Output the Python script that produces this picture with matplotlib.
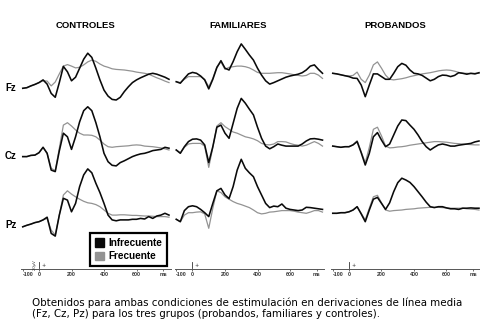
import matplotlib
matplotlib.use('Agg')
import matplotlib.pyplot as plt
from matplotlib.patches import Patch

# sampling grid (ms)
times = list(range(-100, 801, 25))

groups = ['CONTROLES', 'FAMILIARES', 'PROBANDOS']
leads = ['Fz', 'Cz', 'Pz']

# amplitudes in microvolts
ctrl_fz_inf = [-0.1, 0.1, 0.7, 1.2, 1.8, 2.7, 1.3, -1.8, -3.1, 1.8, 7.2, 5.4, 2.4, 3.6, 6.6, 9.6, 11.6, 10.2, 6.6, 2.7, -0.7, -2.7, -3.8, -4.0, -3.1, -1.2, 0.4, 1.8, 2.7, 3.4, 4.0, 4.6, 4.9, 4.6, 4.1, 3.6, 2.9]
ctrl_fz_frec = [-0.1, 0.1, 0.7, 1.2, 1.8, 2.4, 2.3, 0.7, 2.0, 4.7, 7.3, 7.8, 7.3, 6.7, 6.9, 7.7, 8.7, 9.3, 8.9, 8.0, 7.3, 6.9, 6.4, 6.2, 6.1, 6.0, 5.8, 5.6, 5.3, 5.1, 4.9, 4.6, 4.0, 3.4, 2.9, 2.3, 1.8]
ctrl_cz_inf = [-0.2, -0.2, 0.2, 0.3, 1.1, 2.9, 0.9, -4.7, -5.2, 1.7, 7.6, 6.4, 2.2, 6.4, 11.4, 15.1, 16.4, 15.1, 11.1, 6.4, 0.9, -1.9, -3.1, -3.3, -2.2, -1.6, -0.9, -0.2, 0.3, 0.7, 0.9, 1.3, 1.8, 2.0, 2.2, 2.9, 2.6]
ctrl_cz_frec = [-0.2, -0.2, 0.2, 0.3, 1.1, 2.9, 0.9, -4.1, -4.9, 2.6, 10.3, 11.1, 10.0, 8.7, 7.6, 7.0, 7.0, 6.9, 6.4, 5.3, 4.0, 3.1, 2.9, 3.1, 3.2, 3.3, 3.4, 3.6, 3.7, 3.6, 3.3, 3.2, 3.1, 2.9, 2.7, 2.4, 2.0]
ctrl_pz_inf = [-0.6, -0.1, 0.3, 0.8, 1.1, 1.7, 2.6, -2.8, -3.7, 3.3, 8.9, 8.3, 4.4, 7.2, 12.8, 16.7, 18.7, 17.4, 13.9, 10.8, 7.2, 3.3, 1.7, 1.4, 1.7, 1.7, 1.7, 1.9, 1.9, 2.2, 2.0, 2.8, 2.2, 3.0, 3.3, 3.9, 3.3]
ctrl_pz_frec = [-0.6, -0.1, 0.3, 0.8, 1.1, 1.7, 2.2, -1.7, -3.3, 3.3, 10.0, 11.4, 10.3, 9.4, 8.6, 7.9, 7.4, 7.2, 6.8, 6.1, 5.0, 3.9, 3.3, 3.3, 3.4, 3.4, 3.3, 3.2, 3.2, 3.1, 3.0, 3.0, 2.9, 2.8, 2.8, 2.8, 2.6]

fam_fz_inf = [2.1, 1.6, 3.2, 4.7, 5.2, 4.9, 4.0, 2.7, -0.3, 2.9, 6.8, 9.1, 6.6, 6.0, 8.8, 12.1, 14.7, 12.9, 11.0, 9.3, 6.6, 4.3, 2.4, 1.3, 1.8, 2.4, 3.0, 3.6, 4.0, 4.3, 4.6, 5.1, 6.0, 7.3, 7.7, 6.2, 4.9]
fam_fz_frec = [2.1, 1.8, 2.9, 3.8, 3.8, 3.8, 3.8, 2.9, 0.4, 3.2, 7.1, 8.7, 6.2, 6.9, 7.1, 7.3, 7.3, 7.1, 6.7, 6.0, 5.2, 4.9, 4.9, 4.9, 5.0, 5.1, 5.1, 4.9, 4.7, 4.4, 4.2, 4.0, 4.2, 4.9, 4.9, 4.3, 3.2]
fam_cz_inf = [2.0, 0.9, 3.1, 4.8, 5.6, 5.7, 5.3, 3.7, -2.2, 3.1, 9.6, 10.3, 7.6, 5.9, 10.9, 15.9, 19.2, 17.6, 15.6, 13.7, 9.6, 5.9, 3.3, 2.4, 3.1, 4.0, 3.6, 3.3, 3.3, 3.3, 3.3, 4.0, 5.0, 5.7, 5.8, 5.6, 5.3]
fam_cz_frec = [2.0, 1.1, 2.9, 4.0, 4.2, 4.2, 4.2, 3.3, -3.8, 2.8, 10.0, 11.1, 9.8, 8.9, 8.0, 7.6, 7.0, 6.4, 6.1, 5.7, 5.1, 4.2, 3.8, 3.7, 4.0, 4.8, 4.8, 4.7, 4.2, 3.8, 3.6, 3.3, 3.6, 4.2, 4.8, 4.2, 3.3]
fam_pz_inf = [1.9, 1.1, 4.8, 6.1, 6.4, 6.1, 5.2, 4.1, 2.8, 7.2, 11.4, 12.2, 10.0, 8.8, 12.8, 18.3, 21.9, 18.9, 17.4, 16.1, 12.8, 10.0, 7.2, 5.8, 6.3, 6.1, 7.0, 5.6, 5.2, 5.0, 4.8, 5.0, 5.9, 5.8, 5.6, 5.4, 5.2]
fam_pz_frec = [1.9, 1.1, 3.3, 4.1, 4.1, 4.3, 4.4, 3.7, -1.1, 5.6, 11.4, 10.8, 9.4, 8.6, 7.8, 7.2, 6.8, 6.3, 5.8, 5.0, 4.1, 3.7, 3.9, 4.3, 4.4, 4.6, 4.8, 4.8, 4.8, 4.6, 4.3, 4.1, 3.9, 4.3, 4.8, 4.8, 4.3]

prob_fz_inf = [4.9, 4.7, 4.4, 4.1, 3.8, 3.3, 3.2, 1.0, -2.9, 1.0, 4.7, 4.7, 3.8, 2.9, 2.9, 4.9, 7.1, 8.2, 7.6, 6.0, 4.9, 4.7, 4.2, 3.3, 2.4, 2.9, 3.8, 4.3, 4.2, 3.8, 4.2, 5.1, 4.9, 4.6, 4.9, 4.7, 5.1]
prob_fz_frec = [4.9, 4.7, 4.4, 4.1, 4.0, 4.2, 5.3, 2.9, 1.8, 4.3, 7.7, 8.7, 6.6, 4.3, 2.9, 2.7, 2.9, 3.1, 3.4, 3.8, 4.1, 4.4, 4.7, 4.9, 5.1, 5.4, 5.7, 5.9, 6.0, 5.9, 5.6, 5.2, 4.9, 4.9, 4.8, 4.9, 4.9]
prob_cz_inf = [3.3, 3.1, 2.9, 3.1, 3.1, 3.7, 4.8, 1.1, -3.0, 0.9, 6.4, 7.8, 5.3, 3.1, 4.0, 7.0, 10.0, 12.0, 11.8, 10.3, 8.9, 7.0, 4.8, 3.1, 2.0, 2.9, 3.7, 4.0, 3.7, 3.3, 3.3, 3.6, 3.8, 4.0, 4.2, 4.7, 5.0]
prob_cz_frec = [3.3, 3.1, 2.9, 3.1, 3.1, 3.8, 5.1, 1.4, -2.2, 2.9, 8.9, 9.6, 6.7, 3.3, 2.7, 2.8, 3.0, 3.1, 3.3, 3.6, 3.8, 4.0, 4.2, 4.4, 4.6, 4.8, 4.8, 4.7, 4.6, 4.4, 4.2, 4.1, 4.0, 3.9, 3.8, 3.7, 3.7]
prob_pz_inf = [3.9, 3.9, 4.1, 4.1, 4.4, 5.0, 6.1, 3.7, 1.1, 5.0, 8.6, 9.2, 7.2, 5.2, 7.4, 11.1, 14.1, 15.6, 15.0, 14.2, 12.8, 11.1, 9.4, 7.6, 6.1, 5.8, 6.1, 6.1, 5.7, 5.4, 5.4, 5.2, 5.6, 5.6, 5.7, 5.6, 5.6]
prob_pz_frec = [3.9, 3.9, 4.1, 4.1, 4.4, 5.0, 6.1, 3.9, 1.7, 5.6, 9.4, 9.9, 7.4, 5.0, 4.6, 4.8, 4.9, 5.0, 5.2, 5.3, 5.4, 5.6, 5.7, 5.8, 5.9, 5.9, 5.9, 5.8, 5.7, 5.6, 5.6, 5.6, 5.6, 5.4, 5.3, 5.2, 5.0]

waves = {
    'CONTROLES': [(ctrl_fz_inf, ctrl_fz_frec), (ctrl_cz_inf, ctrl_cz_frec), (ctrl_pz_inf, ctrl_pz_frec)],
    'FAMILIARES': [(fam_fz_inf, fam_fz_frec), (fam_cz_inf, fam_cz_frec), (fam_pz_inf, fam_pz_frec)],
    'PROBANDOS': [(prob_fz_inf, prob_fz_frec), (prob_cz_inf, prob_cz_frec), (prob_pz_inf, prob_pz_frec)],
}

# axis labels
tick_pos = [-100, 0, 200, 400, 600, 765]
tick_txt = ['-100', '0', '200', '400', '600', 'ms']

W, H = 481, 332
fig = plt.figure(figsize=(W / 100, H / 100), dpi=100)

BLACK = '#0a0a0a'
GRAY = '#939393'
ARIAL = 'Liberation Sans'

# layout in pixels (3 px per microvolt, 0.1625 px per ms)
zero_px = [39, 192.5, 349]
px_per_ms = 0.1625
axis_y = 269
top_y = 30
row_base = [88, 156, 225]
row_off = [(axis_y - b) / 3 for b in row_base]


def add_px_axes(left, top, width, height):
    return fig.add_axes([left / W, 1 - (top + height) / H, width / W, height / H])


for g, name in enumerate(groups):
    left = zero_px[g] - 110 * px_per_ms
    ax = add_px_axes(left, top_y, 920 * px_per_ms, axis_y - top_y)
    ax.set_xlim(-110, 810)
    ax.set_ylim(0, (axis_y - top_y) / 3)
    for r in range(3):
        inf, frec = waves[name][r]
        ax.plot(times, [v + row_off[r] for v in frec], color=GRAY, lw=0.9, zorder=2)
        ax.plot(times, [v + row_off[r] for v in inf], color=BLACK, lw=1.15, zorder=3)

    for s in ['top', 'left', 'right']:
        ax.spines[s].set_visible(False)
    ax.spines['bottom'].set_color('#555555')
    ax.spines['bottom'].set_linewidth(0.7)
    ax.set_yticks([])
    ax.set_xticks(tick_pos)
    ax.set_xticklabels(tick_txt)
    ax.tick_params(axis='x', length=1.5, width=0.5, pad=1, labelsize=3.8,
                   colors='#333333', direction='out')
    for i, lab in enumerate(ax.get_xticklabels()):
        lab.set_fontweight('bold')
        lab.set_family(ARIAL)
        if i == 0:
            lab.set_horizontalalignment('left')

    # stimulus onset / calibration mark
    ax.plot([0, 0], [0.3, 2.5], color='#333333', lw=0.6, clip_on=False)
    ax.text(25, 1.3, '+', fontsize=3.5, color='#333333', ha='center', va='center')
    if g == 0:
        ax.text(-28, 1.5, '2.0µV', fontsize=3, rotation=90, ha='center', va='center',
                color='#333333', family=ARIAL)
        handles = [Patch(facecolor=BLACK, edgecolor=BLACK, label='Infrecuente'),
                   Patch(facecolor=GRAY, edgecolor=GRAY, label='Frecuente')]
        leg = ax.legend(handles=handles, loc='lower right', bbox_to_anchor=(0.976, 0.013),
                        borderaxespad=0, fancybox=False, framealpha=1, handlelength=0.9,
                        handleheight=0.9, handletextpad=0.5, labelspacing=0.35,
                        borderpad=0.45, prop={'family': ARIAL, 'weight': 'bold', 'size': 7.2})
        leg.get_frame().set_edgecolor('black')
        leg.get_frame().set_linewidth(1.6)

    fig.text((zero_px[g] + 46) / W, 1 - 26 / H, name, ha='center', va='center',
             fontsize=6.8, fontweight='bold', family=ARIAL)

for r, lead in enumerate(leads):
    fig.text(5 / W, 1 - row_base[r] / H, lead, ha='left', va='center',
             fontsize=7, fontweight='bold', family=ARIAL)

fig.text(32 / W, 1 - 302.5 / H,
         'Obtenidos para ambas condiciones de estimulación en derivaciones de línea media',
         ha='left', va='center', fontsize=7.35, family='DejaVu Sans')
fig.text(32 / W, 1 - 314 / H,
         '(Fz, Cz, Pz) para los tres grupos (probandos, familiares y controles).',
         ha='left', va='center', fontsize=7.35, family='DejaVu Sans')

fig.savefig('out.png', dpi=100)
